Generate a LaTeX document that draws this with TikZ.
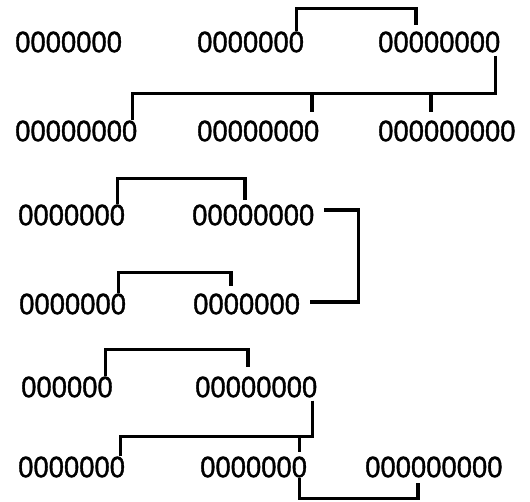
\documentclass[tikz,border=0pt]{standalone}
\usepackage{fontspec}
\newfontfamily\digitfont[FakeStretch=0.93, FakeBold=1.2]{Liberation Sans}
\usepackage{tikz}

\begin{document}
\begin{tikzpicture}[x=1pt, y=-1pt,
    word/.style = {anchor=west, inner sep=0pt, font=\digitfont\fontsize{29.5}{32}\selectfont},
    link/.style = {line width=3.4pt, line join=miter}]
 \useasboundingbox (0,0) rectangle (530,502);
 \node [word] (a) at (15,42)  {0000000};
 \node [word] (b) at (197,42) {0000000};
 \node [word] (c) at (378,42) {00000000};
 \node [word] (d) at (15,131)  {00000000};
 \node [word] (e) at (197,131) {00000000};
 \node [word] (f) at (378,131) {000000000};
 \node [word] (g) at (18,215)  {0000000};
 \node [word] (h) at (192,215) {00000000};
 \node [word] (i) at (19,304)  {0000000};
 \node [word] (j) at (193,304) {0000000};
 \node [word] (k) at (21,387)  {000000};
 \node [word] (l) at (195,387) {00000000};
 \node [word] (m) at (18,467)  {0000000};
 \node [word] (n) at (200,467) {0000000};
 \node [word] (o) at (365,467) {000000000};

 \draw [link] ([xshift=-7.6pt]b.north east) -- ++(0,-23) -| ([xshift=38pt,yshift=6pt]c.north west);
 \draw [link] ([xshift=-5pt,yshift=-3pt]c.south east) -- ++(0,38) -| ([xshift=-5pt]d.north east);
 \draw [link] ([xshift=-7.6pt,yshift=28pt]e.north east) -- ([xshift=-7.6pt,yshift=8pt]e.north east);
 \draw [link] ([xshift=53pt,yshift=28pt]f.north west) -- ([xshift=53pt,yshift=8pt]f.north west);

 \draw [link] ([xshift=-7.6pt]g.north east) -- ++(0,-26) -| ([xshift=53pt,yshift=4pt]h.north west);
 \draw [link] ([xshift=10pt,yshift=5pt]h.east) -- ++(34,0) |- ([xshift=10pt,yshift=2pt]j.east);
 \draw [link] ([xshift=-7.6pt]i.north east) -- ++(0,-21) -| ([xshift=38pt,yshift=7pt]j.north west);

 \draw [link] ([xshift=-7.6pt]k.north east) -- ++(0,-27) -| ([xshift=53pt,yshift=9pt]l.north west);
 \draw [link] ([xshift=-5pt,yshift=-3pt]l.south east) -- ++(0,36) -| ([xshift=-5pt]m.north east);
 \draw [link] ([xshift=-7.6pt,yshift=21pt]n.north east) -- ([xshift=-7.6pt,yshift=4pt]n.north east);
 \draw [link] ([xshift=-7.6pt]n.south east) -- ++(0,21) -| ([xshift=53pt,yshift=-5pt]o.south west);
\end{tikzpicture}
\end{document}
